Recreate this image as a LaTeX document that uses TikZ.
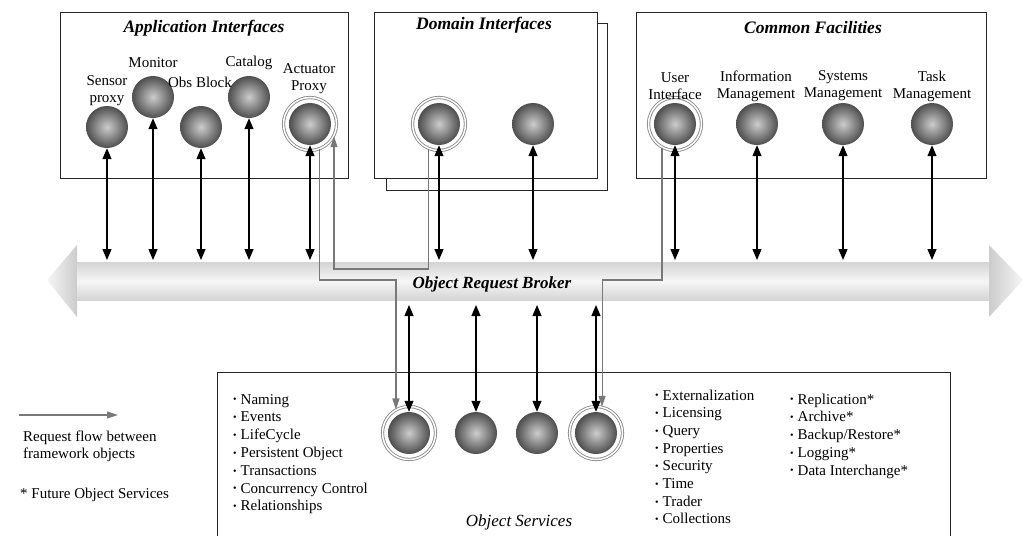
\documentclass[tikz,border=0pt]{standalone}
\usepackage{fontspec}
\setmainfont{Liberation Serif}
\usetikzlibrary{arrows.meta,calc}
\definecolor{ballin}{RGB}{205,205,205}
\definecolor{ballout}{RGB}{78,78,78}
\definecolor{flowgray}{RGB}{120,120,120}
\definecolor{orbdark}{RGB}{212,212,212}
\definecolor{orblight}{RGB}{246,246,246}
\newcommand\bul{{\fontsize{10}{10}\selectfont\raisebox{0.12em}{•}}\hspace{4pt}}
\begin{document}
\begin{tikzpicture}[x=1pt,y=-1pt,
  box/.style={draw=black!85,line width=0.9pt,fill=white},
  ball/.style={circle,minimum size=42pt,inner sep=0pt,inner color=ballin,outer color=ballout},
  ring/.style={circle,minimum size=53pt,inner sep=0pt,draw=gray!95,line width=0.85pt,double=white,double distance=1.5pt},
  lbl/.style={font=\fontsize{15}{17}\selectfont,align=center,inner sep=0pt},
  title/.style={font=\fontsize{17.5}{20}\selectfont\bfseries\itshape,inner sep=0pt},
  item/.style={font=\fontsize{15}{17}\selectfont,anchor=base west,inner sep=0pt},
  biarrow/.style={{Triangle[length=11pt,width=9pt]}-{Triangle[length=11pt,width=9pt]},line width=1.2pt,draw=black},
  flow/.style={-{Triangle[length=11pt,width=7pt]},line width=1.1pt,draw=flowgray}
]
\useasboundingbox[fill=white] (0,0) rectangle (1035,536);

% ---- boxes
\draw[box] (60,12) rectangle (348,178);
\draw[box] (386,23) rectangle (607,190);
\draw[box] (374,12) rectangle (597,178);
\draw[box] (636,12) rectangle (986,178);
\draw[draw=black!85,line width=0.9pt] (217,536) -- (217,372) -- (950,372) -- (950,536);

% ---- titles
\node[title] (tApp) at (204,28) {Application Interfaces};
\node[title] (tDom) at (484,25) {Domain Interfaces};
\node[title] (tCom) at (813,28) {Common Facilities};

% ---- ORB arrow
\shade[left color=orblight,right color=gray!40] (77,245) -- (47,280) -- (77,317) -- cycle;
\shade[left color=gray!40,right color=orblight] (989,245) -- (1023,280) -- (989,317) -- cycle;
\shade[top color=orbdark,bottom color=orbdark,middle color=orblight] (77,262) rectangle (989,300);
\node[title,font=\fontsize{17}{20}\selectfont\bfseries\itshape] (orb) at (492,284) {Object Request Broker};
\coordinate (orbT) at (0,260);
\coordinate (orbB) at (0,305);

% ---- application interface objects
\node[ball] (sensor) at (107,127) {};
\node[ball] (monitor) at (153,97) {};
\node[ball] (obs) at (201,127) {};
\node[ball] (catalog) at (249,97) {};
\node[ball] (act) at (310,124) {};
\node[ring] (actR) at (310,124) {};
\node[lbl] (lSensor) at (107,91) {Sensor\\proxy};
\node[lbl] (lMonitor) at (153,63) {Monitor};
\node[lbl] (lObs) at (200,82) {Obs Block};
\node[lbl] (lCatalog) at (249,63) {Catalog};
\node[lbl] (lAct) at (309,79) {Actuator\\Proxy};

% ---- domain interface objects
\node[ball] (dom1) at (439,124) {};
\node[ring] (domR) at (439,124) {};
\node[ball] (dom2) at (533,124) {};

% ---- common facilities objects
\node[ball] (ui) at (675,124) {};
\node[ring] (uiR) at (675,124) {};
\node[ball] (info) at (757,124) {};
\node[ball] (sys) at (843,124) {};
\node[ball] (task) at (932,124) {};
\node[lbl] (lUi) at (675,86) {User\\Interface};
\node[lbl] (lInfo) at (756,86) {Information\\Management};
\node[lbl] (lSys) at (843,86) {Systems\\Management};
\node[lbl] (lTask) at (932,86) {Task\\Management};

% ---- object services objects
\node[ball] (os1) at (409,433) {};
\node[ring] (osR1) at (409,433) {};
\node[ball] (os2) at (476,433) {};
\node[ball] (os3) at (537,433) {};
\node[ball] (os4) at (596,433) {};
\node[ring] (osR4) at (596,433) {};
\node[font=\fontsize{17}{20}\selectfont\itshape,inner sep=0pt] (tOS) at (519,522) {Object Services};

% ---- ORB connections
\foreach \n in {sensor,monitor,obs,catalog,act,dom1,dom2,ui,info,sys,task}
  \draw[biarrow] (\n) -- (\n |- orbT);
\foreach \n in {os1,os2,os3,os4}
  \draw[biarrow] (\n |- orbB) -- (\n);

% ---- request flows
\draw[flow] (actR.-70) -- (actR.-70 |- 0,280) -| (osR1.119);
\draw[flow] (domR.-114) -- (domR.-114 |- 0,269) -| (actR.-27);
\draw[flow] (uiR.-119) -- (uiR.-119 |- 0,280) -| (osR4.77);

% ---- service lists
\foreach [count=\i from 0] \t in {Naming,Events,LifeCycle,Persistent Object,Transactions,Concurrency Control,Relationships}
  \node[item] (sa\i) at (233,404+17.8*\i) {\bul\t};
\foreach [count=\i from 0] \t in {Externalization,Licensing,Query,Properties,Security,Time,Trader,Collections}
  \node[item] (sb\i) at (655,400+17.7*\i) {\bul\t};
\foreach [count=\i from 0] \t in {Replication*,Archive*,Backup/Restore*,Logging*,Data Interchange*}
  \node[item] (sc\i) at (790,404+17.75*\i) {\bul\t};

% ---- legend
\coordinate (lgA) at (19,415);
\coordinate (lgB) at (118,415);
\draw[flow] (lgA) -- (lgB);
\node[lbl,align=left,anchor=west] (lgText) at (23,446) {Request flow between\\framework objects};
\node[lbl,anchor=west] (lgStar) at (20,495) {* Future Object Services};
\end{tikzpicture}
\end{document}
